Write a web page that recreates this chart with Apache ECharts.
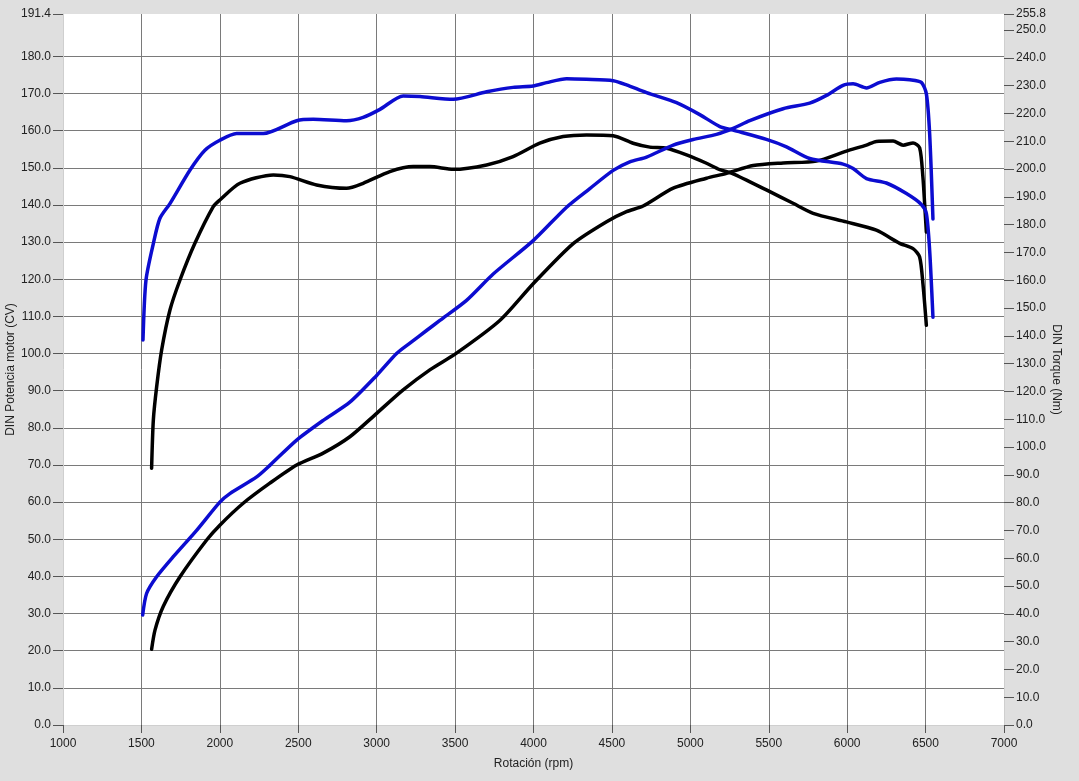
<!DOCTYPE html>
<html>
<head>
<meta charset="utf-8">
<script src="https://cdn.jsdelivr.net/npm/echarts@6/dist/echarts.min.js"></script>
<style>
html,body{margin:0;padding:0;background:#dfdfdf;}
#chart{width:1079px;height:781px;}
</style>
</head>
<body>
<div id="chart"></div>
<script>
// Blue torque curve (Nm, right axis)
var blueTorqueRpm = [1510,1529,1576,1618,1682,1809,1905,2000,2107,2277,2490,2596,2808,2914,3021,3169,3276,3488,3701,3870,3998,4083,4211,4338,4508,4593,4721,4912,5060,5188,5273,5485,5613,5761,5974,6038,6123,6250,6378,6473,6505,6526,6547];
var blueTorqueNm  = [138.5,160,173.2,182.3,187.6,199.6,206.8,210.4,212.8,212.8,217.4,217.9,217.4,218.6,221.5,226.3,226.1,225.1,227.8,229.4,229.9,231.1,232.5,232.3,231.8,230.3,227.5,223.9,219.6,215.3,214,210.7,208,203.8,201.8,200.2,196.6,195,191.2,187.3,184,170.7,146.7];

// Blue power curve (CV, left axis)
var bluePowerRpm = [1508,1533,1597,1703,1852,2000,2064,2235,2319,2490,2659,2829,3000,3127,3212,3318,3403,3573,3743,3998,4211,4359,4508,4614,4721,4891,5018,5167,5273,5379,5592,5761,5868,5974,6038,6123,6208,6314,6399,6473,6505,6526,6547];
var bluePowerCv  = [29.6,35.4,39.9,45.3,52.4,60.0,62.3,66.8,69.9,76.7,82.0,86.9,94.1,100.0,102.8,106.2,108.9,114.3,121.4,130.4,139.4,144.4,149.3,151.6,152.9,156.1,157.6,159.0,160.6,162.7,165.9,167.4,169.5,172.2,172.6,171.5,173.0,173.9,173.7,173.0,169.9,159.1,136.2];

// Black torque curve (Nm, right axis)
var blackTorqueRpm = [1565,1576,1597,1629,1682,1746,1841,1958,2000,2128,2341,2447,2617,2808,2914,3084,3233,3339,3488,3701,3870,4040,4189,4338,4508,4635,4742,4848,4976,5103,5188,5273,5485,5655,5783,5995,6186,6335,6420,6462,6483,6505];
var blackTorqueNm  = [92.4,109.7,121.6,134.9,149.3,160.1,173.3,186.5,188.9,194.9,197.9,197.3,194.3,193.1,194.9,199.1,200.9,200.9,199.9,201.5,204.5,209.3,211.7,212.3,212.0,209.3,207.9,207.5,205.1,202.1,199.8,198.3,192.5,187.7,184.1,181.0,178.0,173.3,171.4,168.4,158.8,143.8];

// Black power curve (CV, left axis)
var blackPowerRpm = [1565,1587,1639,1746,1916,2000,2149,2319,2490,2659,2829,3000,3169,3339,3509,3785,3998,4253,4466,4593,4699,4891,5103,5231,5401,5592,5804,5995,6123,6186,6293,6357,6420,6462,6483,6494,6505];
var blackPowerCv  = [20.4,25.6,31.9,39.9,49.8,53.8,59.7,65.1,70.0,73.2,77.6,83.9,90.2,95.6,100.1,108.9,118.8,129.6,135.5,138.2,139.7,144.5,147.2,148.5,150.6,151.3,151.8,154.5,156.1,157.1,157.2,156.1,156.7,155.4,147.5,140.3,132.7];

// Axis tick values
var leftTicks = [0,10,20,30,40,50,60,70,80,90,100,110,120,130,140,150,160,170,180,191.4];
var rightTicks = [0,10,20,30,40,50,60,70,80,90,100,110,120,130,140,150,160,170,180,190,200,210,220,230,240,250,255.8];

function zip(a, b) { return a.map(function (v, i) { return [v, b[i]]; }); }

var FONT = 'Liberation Sans, Arial, sans-serif';
var BLUE = '#0c0cd0';
var chart = echarts.init(document.getElementById('chart'), null, {renderer: 'canvas'});

function lineSeries(name, data, color, yIdx) {
  return {
    name: name, type: 'line', data: data, yAxisIndex: yIdx,
    showSymbol: false, symbol: 'none', smooth: 0.25,
    lineStyle: {color: color, width: 3.5, cap: 'round', join: 'round'},
    itemStyle: {color: color},
    animation: false, z: 3
  };
}

chart.setOption({
  backgroundColor: '#dfdfdf',
  animation: false,
  grid: {
    left: 63, right: 75, top: 14, bottom: 56,
    show: true, backgroundColor: '#ffffff', borderWidth: 0,
    outerBoundsMode: 'none', containLabel: false
  },
  xAxis: {
    type: 'value', min: 1000, max: 7000, interval: 500,
    name: 'Rotación (rpm)', nameLocation: 'middle', nameGap: 33, nameMoveOverlap: false,
    nameTextStyle: {fontFamily: FONT, fontSize: 12, color: '#222'},
    axisLine: {show: true, lineStyle: {color: '#cfcfcf', width: 1}},
    axisTick: {show: true, length: 8, lineStyle: {color: '#555', width: 1}},
    axisLabel: {fontFamily: FONT, fontSize: 12, color: '#222', margin: 13,
      formatter: function (v) { return String(v); }},
    splitLine: {show: true, showMinLine: false, showMaxLine: false, lineStyle: {color: '#7a7a7a', width: 1}}
  },
  yAxis: [{
    type: 'value', position: 'left', min: 0, max: 191.4, interval: 10,
    name: 'DIN Potencia motor (CV)', nameLocation: 'middle', nameGap: 46, nameMoveOverlap: false,
    nameTextStyle: {fontFamily: FONT, fontSize: 12, color: '#222'},
    axisLine: {show: true, lineStyle: {color: '#cfcfcf', width: 1}},
    axisTick: {show: true, length: 10, customValues: leftTicks, lineStyle: {color: '#555', width: 1}},
    axisLabel: {
      fontFamily: FONT, fontSize: 12, color: '#222', margin: 12,
      customValues: leftTicks, showMaxLabel: true,
      formatter: function (v) { return v === 190 ? '' : Number(v).toFixed(1); }
    },
    splitLine: {show: true, showMinLine: false, showMaxLine: false, lineStyle: {color: '#7a7a7a', width: 1}}
  }, {
    type: 'value', position: 'right', min: 0, max: 255.8, interval: 10,
    name: 'DIN Torque (Nm)', nameLocation: 'middle', nameGap: 46, nameRotate: -90, nameMoveOverlap: false,
    nameTextStyle: {fontFamily: FONT, fontSize: 12, color: '#222'},
    axisLine: {show: true, lineStyle: {color: '#cfcfcf', width: 1}},
    axisTick: {show: true, length: 10, customValues: rightTicks, lineStyle: {color: '#555', width: 1}},
    axisLabel: {
      fontFamily: FONT, fontSize: 12, color: '#222', margin: 12,
      customValues: rightTicks, showMaxLabel: true,
      formatter: function (v) { return Number(v).toFixed(1); }
    },
    splitLine: {show: false}
  }],
  series: [
    lineSeries('Potencia (negro)', zip(blackPowerRpm, blackPowerCv), '#000000', 0),
    lineSeries('Torque (negro)', zip(blackTorqueRpm, blackTorqueNm), '#000000', 1),
    lineSeries('Potencia (azul)', zip(bluePowerRpm, bluePowerCv), BLUE, 0),
    lineSeries('Torque (azul)', zip(blueTorqueRpm, blueTorqueNm), BLUE, 1)
  ]
});
</script>
</body>
</html>
